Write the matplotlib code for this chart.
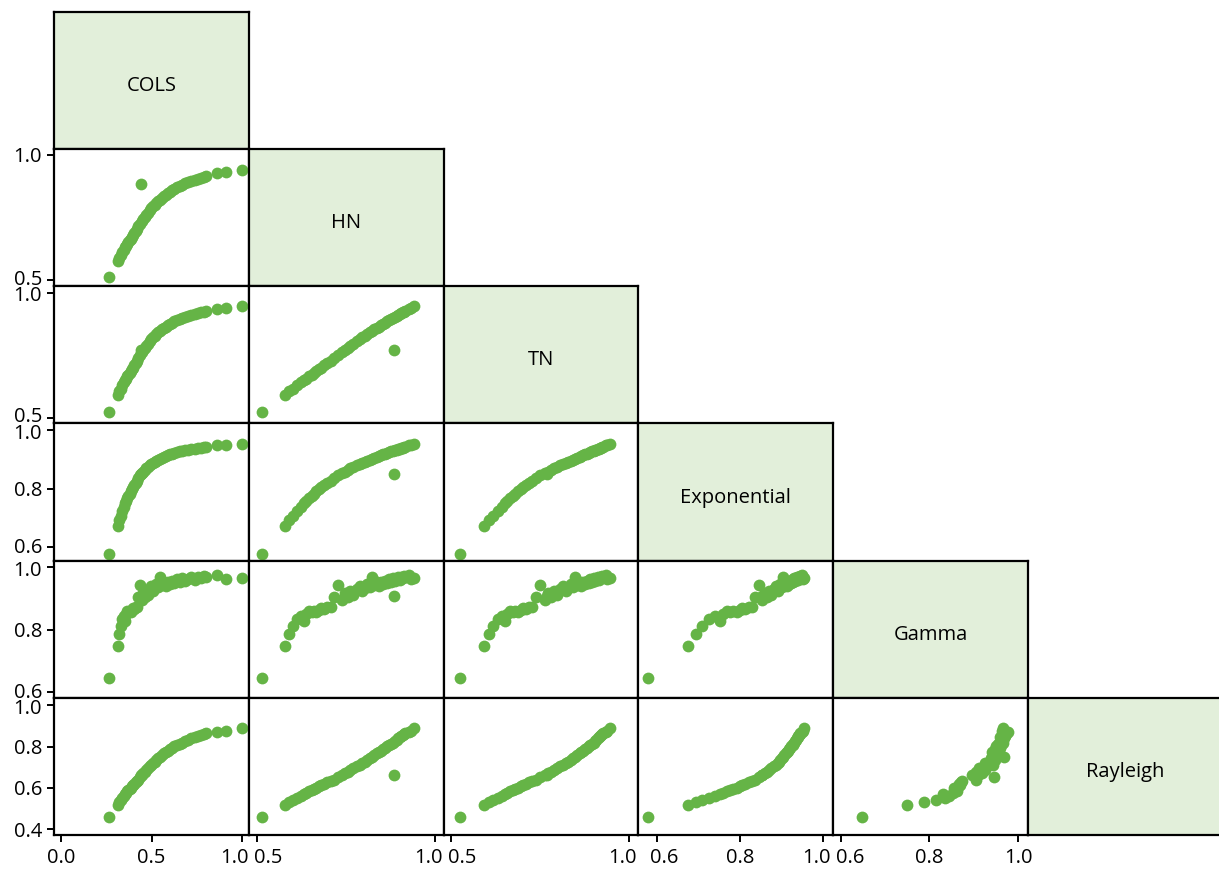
"""Lower-triangle scatter matrix of efficiency scores from six frontier models."""

import matplotlib

matplotlib.use("Agg")
import matplotlib.pyplot as plt
from matplotlib.transforms import blended_transform_factory, offset_copy

plt.rcParams["font.family"] = ["Open Sans", "DejaVu Sans"]

METHODS = ["COLS", "HN", "TN", "Exponential", "Gamma", "Rayleigh"]

# one entry per firm, same order in every list
cols = [0.262, 0.313, 0.321, 0.328, 0.338, 0.345, 0.352, 0.358, 0.365, 0.372,
        0.378, 0.385, 0.392, 0.398, 0.405, 0.412, 0.419, 0.426, 0.435, 0.440,
        0.447, 0.455, 0.463, 0.471, 0.480, 0.489, 0.499, 0.508, 0.518, 0.527,
        0.537, 0.547, 0.557, 0.568, 0.579, 0.590, 0.602, 0.614, 0.627, 0.641,
        0.656, 0.671, 0.687, 0.703, 0.720, 0.738, 0.756, 0.775, 0.790, 0.803,
        0.862, 0.910, 1.000]
hn = [0.513, 0.578, 0.590, 0.600, 0.613, 0.623, 0.632, 0.638, 0.646, 0.653,
      0.659, 0.666, 0.674, 0.680, 0.689, 0.697, 0.706, 0.715, 0.726, 0.885,
      0.738, 0.746, 0.754, 0.762, 0.770, 0.779, 0.788, 0.795, 0.802, 0.809,
      0.816, 0.822, 0.829, 0.836, 0.841, 0.847, 0.853, 0.858, 0.864, 0.870,
      0.876, 0.881, 0.886, 0.891, 0.896, 0.900, 0.904, 0.908, 0.911, 0.914,
      0.927, 0.931, 0.940]
tn = [0.524, 0.592, 0.606, 0.617, 0.631, 0.642, 0.651, 0.657, 0.666, 0.673,
      0.679, 0.687, 0.695, 0.701, 0.710, 0.719, 0.728, 0.738, 0.750, 0.770,
      0.762, 0.771, 0.779, 0.788, 0.796, 0.806, 0.815, 0.822, 0.828, 0.835,
      0.842, 0.847, 0.854, 0.861, 0.865, 0.871, 0.876, 0.881, 0.886, 0.891,
      0.896, 0.900, 0.904, 0.908, 0.912, 0.915, 0.918, 0.921, 0.924, 0.926,
      0.936, 0.939, 0.946]
expo = [0.576, 0.674, 0.692, 0.707, 0.725, 0.739, 0.750, 0.757, 0.767, 0.775,
        0.782, 0.792, 0.799, 0.805, 0.812, 0.820, 0.827, 0.836, 0.846, 0.852,
        0.853, 0.859, 0.864, 0.870, 0.875, 0.881, 0.886, 0.890, 0.893, 0.896,
        0.900, 0.903, 0.906, 0.910, 0.912, 0.915, 0.918, 0.920, 0.923, 0.926,
        0.928, 0.930, 0.932, 0.934, 0.937, 0.938, 0.940, 0.941, 0.943, 0.944,
        0.949, 0.951, 0.954]
gamma = [0.647, 0.750, 0.788, 0.814, 0.835, 0.845, 0.830, 0.852, 0.861, 0.858,
         0.862, 0.856, 0.864, 0.869, 0.866, 0.872, 0.874, 0.905, 0.945, 0.910,
         0.895, 0.918, 0.905, 0.925, 0.912, 0.930, 0.942, 0.925, 0.935, 0.948,
         0.938, 0.968, 0.945, 0.952, 0.940, 0.955, 0.948, 0.958, 0.950, 0.962,
         0.955, 0.965, 0.958, 0.963, 0.968, 0.960, 0.970, 0.965, 0.972, 0.968,
         0.977, 0.964, 0.966]
rayleigh = [0.458, 0.518, 0.530, 0.539, 0.552, 0.562, 0.570, 0.575, 0.583, 0.588,
            0.593, 0.601, 0.607, 0.613, 0.619, 0.626, 0.632, 0.640, 0.651, 0.660,
            0.662, 0.671, 0.679, 0.688, 0.696, 0.705, 0.713, 0.719, 0.726, 0.734,
            0.744, 0.751, 0.759, 0.769, 0.774, 0.781, 0.789, 0.794, 0.801, 0.809,
            0.814, 0.819, 0.825, 0.832, 0.841, 0.845, 0.851, 0.854, 0.861, 0.864,
            0.872, 0.874, 0.892]

SCORES = {"COLS": cols, "HN": hn, "TN": tn, "Exponential": expo,
          "Gamma": gamma, "Rayleigh": rayleigh}

TICKS = {
    "COLS": [0.0, 0.5, 1.0],
    "HN": [0.5, 1.0],
    "TN": [0.5, 1.0],
    "Exponential": [0.6, 0.8, 1.0],
    "Gamma": [0.6, 0.8, 1.0],
    "Rayleigh": [0.4, 0.6, 0.8, 1.0],
}
LIMITS = {
    "COLS": (-0.041, 1.039),
    "HN": (0.477, 1.023),
    "TN": (0.478, 1.026),
    "Exponential": (0.554, 1.024),
    "Gamma": (0.583, 1.022),
    "Rayleigh": (0.371, 1.037),
}
# tick labels at the panel seams are nudged apart (pixels)
XNUDGE = {
    ("COLS", 1.0): -7, ("HN", 0.5): 11, ("HN", 1.0): -7,
    ("TN", 0.5): 11, ("TN", 1.0): -7, ("Exponential", 0.6): 7,
    ("Exponential", 1.0): -7, ("Gamma", 0.6): 9,
}
YNUDGE = {
    ("HN", 0.5): 3, ("TN", 0.5): 3, ("TN", 1.0): -1,
    ("Exponential", 0.6): 2, ("Exponential", 1.0): -1,
    ("Gamma", 0.6): 2, ("Gamma", 1.0): -1, ("Rayleigh", 1.0): -1,
}

DOT = "#65b446"
BOX = "#e2efda"
W, H = 1219, 871
X0, CELL_W = 54, 194.8
Y0, CELL_H = 11.8, 137.2
FS = 14.5

fig = plt.figure(figsize=(W / 100, H / 100), dpi=100)

for r, yname in enumerate(METHODS):
    for c in range(r + 1):
        xname = METHODS[c]
        rect = [(X0 + c * CELL_W) / W, 1 - (Y0 + (r + 1) * CELL_H) / H,
                CELL_W / W, CELL_H / H]
        ax = fig.add_axes(rect)
        for sp in ax.spines.values():
            sp.set_linewidth(1.6)
            sp.set_color("black")
        ax.tick_params(direction="out", length=5, width=1.4, colors="black")

        if r == c:
            ax.set_facecolor(BOX)
            ax.text(0.5, 0.423, xname, ha="center", va="baseline",
                    fontsize=FS, transform=ax.transAxes)
            ax.set_xticks([])
            ax.set_yticks([])
            continue

        ax.scatter(SCORES[xname], SCORES[yname], s=72, color=DOT,
                   linewidths=0, zorder=3)
        ax.set_xlim(LIMITS[xname])
        ax.set_ylim(LIMITS[yname])

        if c == 0:
            ax.set_yticks(TICKS[yname])
            ax.set_yticklabels([])
            base = blended_transform_factory(ax.transAxes, ax.transData)
            for t in TICKS[yname]:
                tr = offset_copy(base, fig=fig, x=-12,
                                 y=YNUDGE.get((yname, t), 0), units="dots")
                ax.text(0, t, f"{t:.1f}", transform=tr, ha="right",
                        va="center_baseline", fontsize=FS)
        else:
            ax.set_yticks([])
        if r == len(METHODS) - 1:
            ax.set_xticks(TICKS[xname])
            ax.set_xticklabels([])
            base = blended_transform_factory(ax.transData, ax.transAxes)
            for t in TICKS[xname]:
                tr = offset_copy(base, fig=fig, x=XNUDGE.get((xname, t), 0),
                                 y=-13, units="dots")
                ax.text(t, 0, f"{t:.1f}", transform=tr, ha="center",
                        va="top", fontsize=FS)
        else:
            ax.set_xticks([])

fig.savefig("out.png", dpi=100)
plt.close(fig)
